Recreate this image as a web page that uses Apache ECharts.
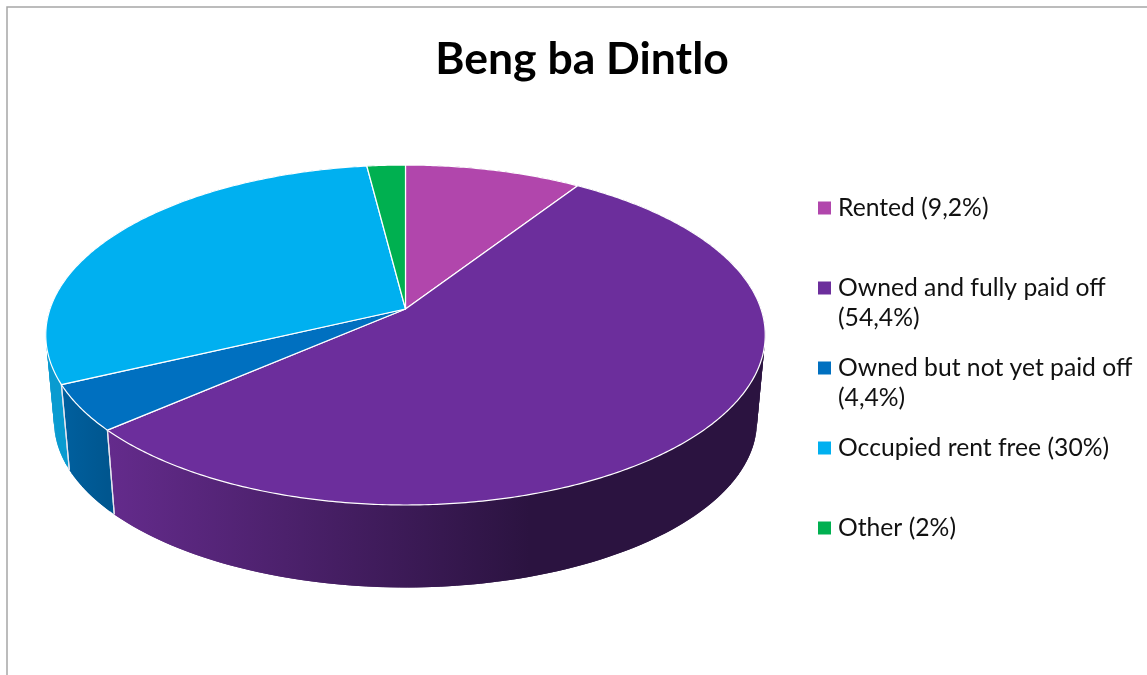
<!DOCTYPE html>
<html>
<head>
<meta charset="utf-8">
<style>html,body{margin:0;padding:0;background:#fff}#c{width:1147px;height:675px}</style>
<script src="https://cdn.jsdelivr.net/npm/echarts@6/dist/echarts.min.js"></script>
</head>
<body>
<div id="c"></div>
<script>
const chartTitle = 'Beng ba Dintlo';
const categories = ['Rented (9,2%)', 'Owned and fully paid off\n(54,4%)', 'Owned but not yet paid off\n(4,4%)', 'Occupied rent free (30%)', 'Other (2%)'];
const shares = [9.2, 54.4, 4.4, 30, 2];
const topColors = ['#b146ac', '#6c2e9c', '#0070c0', '#00b0f0', '#00b050'];
const sideStops = [
  ['#6a2a66', '#6a2a66'],
  ['#642b8c', '#2b1340'],
  ['#00609f', '#00568f'],
  ['#0a9bd0', '#0a9bd0'],
  ['#00803a', '#00803a']
];
const legendRows = [208, 288, 368, 448, 528];

const view = { cx: 405.5, cy: 309, rx: 355.5, ry: 166, k: 0.153, depth: 87, shrink: 0.977 };
const total = shares.reduce((a, b) => a + b, 0);

function rim(theta, lower) {
  const u = Math.sin(theta), v = Math.cos(theta), w = 1 + view.k * v;
  const s = lower ? view.shrink : 1, dy = lower ? view.depth : 0;
  return [view.cx + s * view.rx * u / w, view.cy + dy - s * view.ry * v / w];
}
function arc(t0, t1, lower, step) {
  const n = Math.max(2, Math.ceil((t1 - t0) / step)), pts = [];
  for (let i = 0; i <= n; i++) pts.push(rim(t0 + (t1 - t0) * i / n, lower));
  return pts;
}
function slice(index) {
  return function (params, api) {
    let before = 0;
    for (let i = 0; i < index; i++) before += shares[i];
    const t0 = before / total * 2 * Math.PI;
    const t1 = (before + api.value(0)) / total * 2 * Math.PI;
    const topArc = arc(t0, t1, false, 0.01);
    const xs = topArc.map(p => p[0]);
    const grad = new echarts.graphic.LinearGradient(
      index === 1 ? 108 : Math.min.apply(null, xs), 0,
      index === 1 ? 530 : Math.max.apply(null, xs), 0,
      [{ offset: 0, color: sideStops[index][0] }, { offset: 1, color: sideStops[index][1] }], true);
    const edge = { stroke: '#e6e4ee', lineWidth: 1.2, fill: null };
    const children = [];
    // side wall: overlapping quads so the silhouette follows the wall, not the rim chord
    const a = arc(t0, t1, false, 0.02), b = arc(t0, t1, true, 0.02);
    for (let i = 0; i + 1 < a.length; i++) {
      const j = Math.min(i + 2, a.length - 1);
      children.push({ type: 'polygon', z2: 1, silent: true,
        shape: { points: [a[i], a[j], b[j], b[i]] }, style: { fill: grad } });
    }
    if (Math.cos(t0) <= 0.05) children.push({ type: 'polyline', z2: 2, silent: true,
      shape: { points: [rim(t0, false), rim(t0, true)] }, style: edge });
    if (Math.cos(t1) <= 0.05) children.push({ type: 'polyline', z2: 2, silent: true,
      shape: { points: [rim(t1, false), rim(t1, true)] }, style: edge });
    children.push({ type: 'polygon', z2: 5, silent: true,
      shape: { points: [[view.cx, view.cy]].concat(topArc) },
      style: { fill: topColors[index], stroke: '#ffffff', lineWidth: 1.2, lineJoin: 'round' } });
    return { type: 'group', children: children };
  };
}

const series = categories.map((name, i) => ({
  type: 'custom',
  name: name,
  coordinateSystem: 'none',
  itemStyle: { color: topColors[i] },
  renderItem: slice(i),
  data: [[shares[i]]],
  animation: false
}));

const legend = categories.map((name, i) => {
  const two = name.indexOf('\n') >= 0;
  return {
    data: [name],
    left: 818,
    top: legendRows[i] - (two ? 45 : 15),
    orient: 'vertical',
    padding: 0,
    itemWidth: 13,
    itemHeight: 13,
    icon: 'rect',
    selectedMode: false,
    // a leading empty line keeps the marker level with the first line of a wrapped label
    formatter: n => (n.indexOf('\n') >= 0 ? ' \n' + n : n),
    textStyle: {
      fontFamily: 'Lato',
      fontSize: 24.7,
      color: '#111111',
      lineHeight: 30,
      padding: [0, 0, 0, 2]
    }
  };
});

const chart = echarts.init(document.getElementById('c'), null, { renderer: 'canvas' });
chart.setOption({
  backgroundColor: '#ffffff',
  animation: false,
  title: {
    text: chartTitle, left: 582, top: 37, textAlign: 'center', padding: 0,
    textStyle: { fontFamily: 'Lato', fontWeight: 'bold', fontSize: 44.5, color: '#000000' }
  },
  legend: legend,
  graphic: [{
    type: 'polyline', silent: true,
    shape: { points: [[7, 675], [7, 7], [1147, 7]] },
    style: { stroke: '#a6a6a6', lineWidth: 1.5, fill: null }
  }],
  series: series
});
</script>
</body>
</html>
